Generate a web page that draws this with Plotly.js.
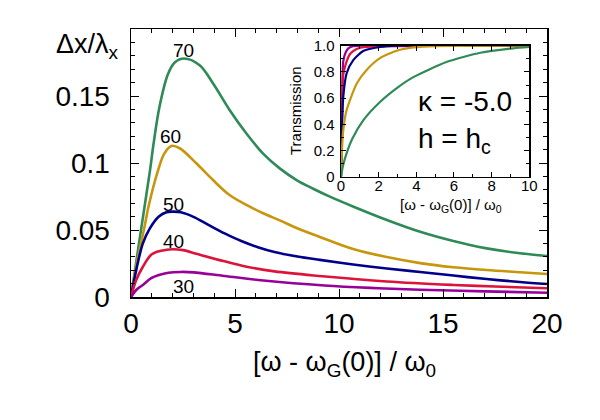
<!DOCTYPE html>
<html>
<head>
<meta charset="utf-8">
<script src="https://cdn.plot.ly/plotly-3.0.1.min.js"></script>
<style>html,body{margin:0;padding:0;background:#fff;}#chart{width:600px;height:420px;}</style>
</head>
<body>
<div id="chart"></div>
<script>
// Main panel: Delta x / lambda_x vs [omega - omega_G(0)]/omega_0
const labels = ['70', '60', '50', '40', '30'];
const colors = ['#2e8b57', '#c8960c', '#00008b', '#dc143c', '#990099'];

const x70 = [0, 0.25, 0.5, 0.9, 1.1, 1.37, 1.77, 2.1, 2.55, 3.3, 3.94, 4.74, 5.55, 6.35, 7.15, 7.96, 8.76, 9.56, 10.7, 12.3, 13.9, 15.5, 17.1, 18.7, 20];
const y70 = [0, 0.026, 0.052, 0.093, 0.116, 0.142, 0.166, 0.175, 0.178, 0.173, 0.1595, 0.1396, 0.122, 0.107, 0.096, 0.0873, 0.0808, 0.0749, 0.0674, 0.0575, 0.0487, 0.0418, 0.0363, 0.0326, 0.0306];

const x60 = [0, 0.25, 0.65, 0.84, 1.29, 1.6, 1.94, 2.34, 3.14, 3.94, 4.74, 5.55, 6.35, 7.15, 7.96, 9.08, 10.68, 12.3, 13.9, 15.5, 17.1, 18.7, 20];
const y60 = [0, 0.023, 0.0525, 0.0674, 0.094, 0.107, 0.1127, 0.111, 0.0998, 0.0873, 0.0761, 0.0687, 0.0625, 0.0572, 0.0515, 0.0448, 0.0358, 0.0298, 0.0253, 0.0222, 0.0201, 0.0185, 0.0172];

const x50 = [0, 0.25, 0.57, 0.9, 1.34, 1.7, 2.0, 2.4, 3.0, 3.7, 4.5, 5.3, 6.1, 6.9, 8.0, 9.08, 10.68, 12.3, 13.9, 15.5, 17.1, 18.7, 20];
const y50 = [0, 0.02, 0.04, 0.051, 0.06, 0.0632, 0.0637, 0.0632, 0.0598, 0.054, 0.0475, 0.0418, 0.0372, 0.0336, 0.0302, 0.0277, 0.0243, 0.0213, 0.0187, 0.016, 0.0134, 0.0112, 0.0097];

const x40 = [0, 0.25, 0.57, 0.97, 1.3, 1.7, 2.0, 2.5, 3.2, 4.5, 5.5, 6.9, 9.2, 12.3, 15.5, 17.5, 20];
const y40 = [0, 0.0127, 0.0226, 0.0315, 0.034, 0.0352, 0.0356, 0.035, 0.032, 0.0266, 0.0228, 0.0191, 0.0155, 0.0116, 0.009, 0.0078, 0.0065];

const x30 = [0, 0.25, 0.57, 0.97, 1.34, 1.8, 2.4, 3.0, 4.5, 6.5, 9.3, 11.5, 13.9, 17, 20];
const y30 = [0, 0.0052, 0.009, 0.014, 0.0164, 0.0181, 0.0187, 0.0184, 0.0157, 0.0121, 0.0086, 0.0068, 0.0054, 0.0042, 0.0032];

// Inset: Transmission
const tx70 = [0, 0.1, 0.3, 0.6, 1.18, 2.07, 3.0, 3.84, 5.6, 7.4, 9.15, 10];
const ty70 = [0, 0.08, 0.18, 0.29, 0.43, 0.57, 0.68, 0.76, 0.875, 0.946, 0.98, 0.99];
const tx60 = [0, 0.05, 0.12, 0.3, 0.83, 1.36, 2.07, 2.96, 3.84, 5, 10];
const ty60 = [0, 0.2, 0.356, 0.51, 0.71, 0.815, 0.905, 0.962, 0.987, 0.997, 1.0];
const tx50 = [0, 0.05, 0.12, 0.3, 0.65, 1.18, 2.07, 3, 10];
const ty50 = [0, 0.35, 0.61, 0.79, 0.89, 0.96, 0.99, 1.0, 1.0];
const tx40 = [0, 0.05, 0.12, 0.3, 0.5, 0.83, 1.3, 10];
const ty40 = [0, 0.45, 0.78, 0.88, 0.94, 0.975, 0.99, 1.0];
const tx30 = [0, 0.05, 0.12, 0.25, 0.39, 0.6, 1.0, 10];
const ty30 = [0, 0.55, 0.88, 0.95, 0.98, 0.995, 1.0, 1.0];

// Label anchor positions (data coords)
const labelX = [2.54, 1.92, 2.03, 2.03, 2.54];
const labelY = [0.1843, 0.1196, 0.069, 0.0416, 0.008];

const mainX = [x70, x60, x50, x40, x30];
const mainY = [y70, y60, y50, y40, y30];
const insX = [tx70, tx60, tx50, tx40, tx30];
const insY = [ty70, ty60, ty50, ty40, ty30];

const FONT = 'Liberation Sans, Arial, Helvetica, sans-serif';
const traces = [];
for (let i = 0; i < 5; i++) {
  traces.push({x: mainX[i], y: mainY[i], xaxis: 'x', yaxis: 'y', mode: 'lines',
    line: {color: colors[i], width: 2.6, shape: 'spline', smoothing: 1}, hoverinfo: 'skip', showlegend: false});
}
for (let i = 4; i >= 0; i--) {
  traces.push({x: insX[i], y: insY[i], xaxis: 'x2', yaxis: 'y2', mode: 'lines',
    line: {color: colors[i], width: 2.2, shape: 'spline', smoothing: 0.6}, hoverinfo: 'skip', showlegend: false});
}

const axBase = {showline: true, linecolor: '#000', linewidth: 1.5, mirror: 'ticks', ticks: 'inside',
  tickcolor: '#000', tickwidth: 1, showgrid: false, zeroline: false};

const annotations = labels.map((t, i) => ({x: labelX[i], y: labelY[i], xref: 'x', yref: 'y', text: t,
  showarrow: false, font: {family: FONT, size: 19, color: '#000'}, xanchor: 'center', yanchor: 'middle'}));

annotations.push(
  {x: -0.105, y: 0.935, xref: 'paper', yref: 'paper', text: 'Δx/λ<sub>x</sub>', showarrow: false,
   font: {family: FONT, size: 27, color: '#000'}, xanchor: 'center', yanchor: 'middle'},
  {x: 0.514, y: -0.25, xref: 'paper', yref: 'paper', text: '[ω - ω<sub>G</sub>(0)] / ω<sub>0</sub>', showarrow: false,
   font: {family: FONT, size: 27, color: '#000'}, xanchor: 'center', yanchor: 'middle'},
  {x: (295 - 131) / 416, y: (297 - 111) / 268, xref: 'paper', yref: 'paper', text: 'Transmission', showarrow: false,
   textangle: -90, font: {family: FONT, size: 15, color: '#000'}, xanchor: 'center', yanchor: 'middle'},
  {x: (451 - 131) / 416, y: (297 - 205) / 268, xref: 'paper', yref: 'paper', text: '[ω - ω<sub>G</sub>(0)] / ω<sub>0</sub>', showarrow: false,
   font: {family: FONT, size: 15, color: '#000'}, xanchor: 'center', yanchor: 'middle'},
  {x: (416 - 131) / 416, y: (297 - 101) / 268, xref: 'paper', yref: 'paper', text: 'κ = -5.0', showarrow: false,
   font: {family: FONT, size: 28, color: '#000'}, xanchor: 'left', yanchor: 'middle'},
  {x: (416 - 131) / 416, y: (297 - 140) / 268, xref: 'paper', yref: 'paper', text: 'h = h<sub>c</sub>', showarrow: false,
   font: {family: FONT, size: 28, color: '#000'}, xanchor: 'left', yanchor: 'middle'}
);

const layout = {
  width: 600, height: 420,
  margin: {l: 131, r: 53, t: 29, b: 123},
  paper_bgcolor: '#fff', plot_bgcolor: '#fff',
  font: {family: FONT, color: '#000'},
  showlegend: false,
  xaxis: Object.assign({}, axBase, {domain: [0, 1], range: [0, 20], tickvals: [0, 5, 10, 15, 20],
    ticktext: ['0', '5', '10', '15', '20'], ticklen: 8, ticklabelstandoff: 1,
    tickfont: {family: FONT, size: 28, color: '#000'},
    minor: {tickmode: 'linear', tick0: 0, dtick: 1, ticks: 'inside', ticklen: 4, tickcolor: '#000', tickwidth: 1}}),
  yaxis: Object.assign({}, axBase, {domain: [0, 1], range: [0, 0.2], tickvals: [0, 0.05, 0.1, 0.15],
    ticktext: ['0', '0.05', '0.1', '0.15'], ticklen: 8, ticklabelstandoff: 14,
    tickfont: {family: FONT, size: 28, color: '#000'},
    minor: {tickmode: 'linear', tick0: 0, dtick: 0.01, ticks: 'inside', ticklen: 4, tickcolor: '#000', tickwidth: 1}}),
  xaxis2: Object.assign({}, axBase, {anchor: 'y2', domain: [(341 - 131) / 416, (529.3 - 131) / 416], range: [0, 10],
    tickvals: [0, 2, 4, 6, 8, 10], ticktext: ['0', '2', '4', '6', '8', '10'], ticklen: 5, ticklabelstandoff: -5,
    tickfont: {family: FONT, size: 15, color: '#000'},
    minor: {tickmode: 'linear', tick0: 0, dtick: 1, ticks: 'inside', ticklen: 3, tickcolor: '#000', tickwidth: 1}}),
  yaxis2: Object.assign({}, axBase, {anchor: 'x2', domain: [(297 - 176.7) / 268, (297 - 45.7) / 268], range: [0, 1],
    tickvals: [0, 0.2, 0.4, 0.6, 0.8, 1.0], ticktext: ['0', '0.2', '0.4', '0.6', '0.8', '1.0'], ticklen: 5, ticklabelstandoff: 2,
    tickfont: {family: FONT, size: 15, color: '#000'},
    minor: {tickmode: 'linear', tick0: 0, dtick: 0.1, ticks: 'inside', ticklen: 3, tickcolor: '#000', tickwidth: 1}}),
  annotations: annotations
};

Plotly.newPlot('chart', traces, layout, {staticPlot: true, displayModeBar: false});
</script>
</body>
</html>
